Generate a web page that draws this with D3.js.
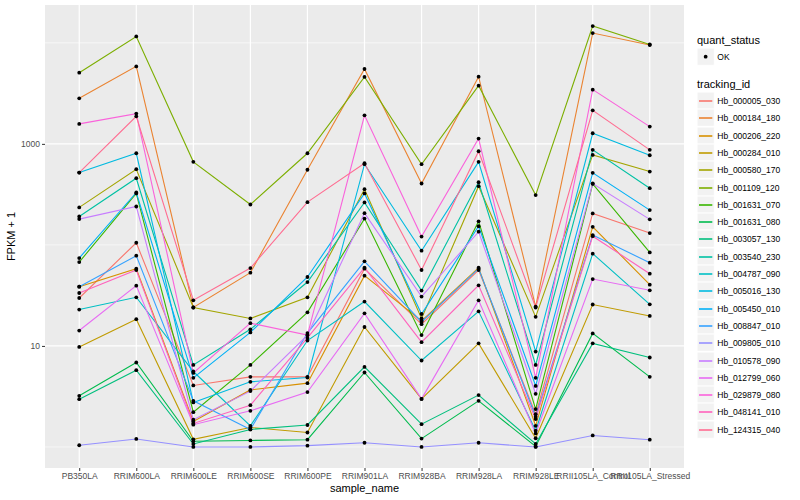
<!DOCTYPE html>
<html>
<head>
<meta charset="utf-8">
<script src="https://cdn.jsdelivr.net/npm/d3@7"></script>
<style>
  body { margin: 0; background: #fff; }
  text { font-family: "Liberation Sans", Arial, sans-serif; }
</style>
</head>
<body>
<div id="chart"></div>
<script>
// samples on the x axis
const samples = ["PB350LA", "RRIM600LA", "RRIM600LE", "RRIM600SE", "RRIM600PE", "RRIM901LA",
                 "RRIM928BA", "RRIM928LA", "RRIM928LE", "RRII105LA_Control", "RRII105LA_Stressed"];

const trackingIds = ["Hb_000005_030", "Hb_000184_180", "Hb_000206_220", "Hb_000284_010", "Hb_000580_170",
                     "Hb_001109_120", "Hb_001631_070", "Hb_001631_080", "Hb_003057_130", "Hb_003540_230",
                     "Hb_004787_090", "Hb_005016_130", "Hb_005450_010", "Hb_008847_010", "Hb_009805_010",
                     "Hb_010578_090", "Hb_012799_060", "Hb_029879_080", "Hb_048141_010", "Hb_124315_040"];

// FPKM + 1, one row per tracking_id, one value per sample
const fpkmPlus1 = [
  [29.8, 105, 4.06, 4.94, 4.94, 58.2, 16.4, 56.4, 2.11, 205, 131],
  [2822, 5845, 24.0, 53.1, 554, 5510, 405, 4624, 24.5, 12500, 9513],
  [38.6, 58.2, 1.79, 3.67, 4.28, 49.6, 17.7, 59.5, 1.62, 151, 40.4],
  [9.77, 18.4, 1.19, 1.56, 1.39, 15.4, 2.99, 10.6, 1.22, 25.7, 19.8],
  [235, 561, 24.0, 18.7, 30.3, 356, 18.7, 381, 19.4, 778, 532],
  [5066, 11570, 664, 251, 807, 4593, 629, 3768, 311, 14660, 9643],
  [67.6, 323, 2.21, 6.49, 21.5, 182, 12.8, 171, 2.37, 402, 84.3],
  [3.21, 6.85, 1.14, 1.16, 1.18, 5.46, 1.21, 2.86, 1.01, 13.3, 4.94],
  [2.97, 5.75, 1.07, 1.49, 1.65, 6.20, 1.68, 3.26, 1.07, 10.6, 7.68],
  [191, 457, 6.49, 14.6, 42.9, 263, 35.3, 417, 6.49, 872, 364],
  [22.9, 30.3, 5.58, 1.62, 11.3, 27.5, 7.17, 22.0, 1.45, 81.9, 25.8],
  [520, 807, 2.76, 4.41, 4.87, 629, 87.6, 664, 8.80, 1273, 771],
  [74.1, 330, 4.83, 13.6, 48.1, 323, 20.7, 153, 4.02, 517, 221],
  [38.6, 78.2, 2.86, 1.49, 13.4, 68.7, 17.3, 58.2, 1.99, 125, 66.7],
  [1.04, 1.20, 1.00, 1.00, 1.03, 1.10, 1.00, 1.10, 1.00, 1.30, 1.18],
  [180, 240, 1.86, 3.57, 12.8, 206, 30.8, 135, 3.36, 405, 179],
  [14.2, 39.5, 1.66, 2.28, 3.49, 21.0, 2.99, 28.3, 1.36, 45.9, 35.5],
  [1576, 1992, 5.41, 16.8, 12.8, 1917, 121, 1128, 4.83, 3440, 1482],
  [33.4, 56.4, 1.71, 2.59, 12.0, 59.5, 10.9, 39.8, 1.89, 122, 51.9],
  [520, 1874, 28.3, 59.0, 265, 643, 56.4, 845, 24.0, 2148, 872]
];

const quantStatus = ["OK"];
const yMajor = [10, 1000];
const yMinor = [1, 100, 10000];

// ggplot hue palette for 20 groups
const palette = ["#F8766D", "#EA8331", "#D89000", "#C09B00", "#A3A500", "#7CAE00", "#39B600",
                 "#00BB4E", "#00BF7D", "#00C1A3", "#00BFC4", "#00BAE0", "#00B0F6", "#35A2FF",
                 "#9590FF", "#C77CFF", "#E76BF3", "#FA62DB", "#FF62BC", "#FF6C91"];

const W = 800, H = 500;
const panel = {left: 45, right: 684, top: 5, bottom: 468};

const svg = d3.select("#chart").append("svg")
    .attr("width", W)
    .attr("height", H);

const x = d3.scalePoint()
    .domain(samples)
    .range([panel.left, panel.right])
    .padding(0.6);

// log scale with 5% expansion in log space, like ggplot
const ext = d3.extent(fpkmPlus1.flat()).map(Math.log10);
const pad = (ext[1] - ext[0]) * 0.05;
const y = d3.scaleLog()
    .domain([Math.pow(10, ext[0] - pad), Math.pow(10, ext[1] + pad)])
    .range([panel.bottom, panel.top]);

const color = d3.scaleOrdinal()
    .domain(trackingIds)
    .range(palette);

// panel
svg.append("rect")
    .attr("x", panel.left).attr("y", panel.top)
    .attr("width", panel.right - panel.left)
    .attr("height", panel.bottom - panel.top)
    .attr("fill", "#EBEBEB");

const grid = svg.append("g");
grid.selectAll(".minor").data(yMinor.filter(v => y(v) >= panel.top && y(v) <= panel.bottom))
  .enter().append("line")
    .attr("x1", panel.left).attr("x2", panel.right)
    .attr("y1", d => y(d)).attr("y2", d => y(d))
    .attr("stroke", "#fff").attr("stroke-width", 0.6);
grid.selectAll(".major").data(yMajor)
  .enter().append("line")
    .attr("x1", panel.left).attr("x2", panel.right)
    .attr("y1", d => y(d)).attr("y2", d => y(d))
    .attr("stroke", "#fff").attr("stroke-width", 1.2);
grid.selectAll(".vx").data(samples)
  .enter().append("line")
    .attr("x1", d => x(d)).attr("x2", d => x(d))
    .attr("y1", panel.top).attr("y2", panel.bottom)
    .attr("stroke", "#fff").attr("stroke-width", 1.2);

// lines
const line = d3.line()
    .x((d, i) => x(samples[i]))
    .y(d => y(d));

svg.append("g").selectAll("path")
    .data(fpkmPlus1)
    .enter().append("path")
    .attr("d", d => line(d))
    .attr("fill", "none")
    .style("stroke", (d, i) => color(trackingIds[i]))
    .style("stroke-width", 1.1);

// points
svg.append("g").selectAll("g")
    .data(fpkmPlus1)
    .enter().append("g")
    .selectAll("circle")
    .data(d => d)
    .enter().append("circle")
    .attr("cx", (d, i) => x(samples[i]))
    .attr("cy", d => y(d))
    .attr("r", 1.9)
    .attr("fill", "#000");

// axes
const xAxis = svg.append("g")
    .attr("transform", `translate(0,${panel.bottom})`)
    .call(d3.axisBottom(x).tickSize(3).tickPadding(2));
const yAxis = svg.append("g")
    .attr("transform", `translate(${panel.left},0)`)
    .call(d3.axisLeft(y).tickValues(yMajor).tickFormat(d3.format("d")).tickSize(3).tickPadding(2));

[xAxis, yAxis].forEach(a => {
  a.select(".domain").remove();
  a.selectAll(".tick line").attr("stroke", "#333333");
  a.selectAll(".tick text")
      .attr("fill", "#4D4D4D")
      .style("font-size", "8.5px")
      .style("font-family", '"Liberation Sans", Arial, sans-serif');
});

svg.append("text")
    .attr("x", (panel.left + panel.right) / 2)
    .attr("y", 492)
    .attr("text-anchor", "middle")
    .style("font-size", "11px")
    .text("sample_name");

svg.append("text")
    .attr("transform", `translate(15,${(panel.top + panel.bottom) / 2}) rotate(-90)`)
    .attr("text-anchor", "middle")
    .style("font-size", "11px")
    .text("FPKM + 1");

// legends
const lg = svg.append("g").attr("transform", "translate(697,0)");
const key = 17.3;

lg.append("text").attr("x", 0).attr("y", 44)
    .style("font-size", "11px").text("quant_status");
const q = lg.selectAll(".q").data(quantStatus).enter().append("g")
    .attr("transform", (d, i) => `translate(0,${48 + i * key})`);
q.append("rect").attr("width", key).attr("height", key)
    .attr("fill", "#F2F2F2").attr("stroke", "#fff");
q.append("circle").attr("cx", key / 2).attr("cy", key / 2).attr("r", 1.9).attr("fill", "#000");
q.append("text").attr("x", key + 3).attr("y", key / 2 + 3)
    .style("font-size", "8.5px").attr("fill", "#000").text(d => d);

lg.append("text").attr("x", 0).attr("y", 88)
    .style("font-size", "11px").text("tracking_id");
const t = lg.selectAll(".t").data(trackingIds).enter().append("g")
    .attr("transform", (d, i) => `translate(0,${Math.round(92 + i * key)})`);
t.append("rect").attr("width", key).attr("height", key)
    .attr("fill", "#F2F2F2").attr("stroke", "#fff");
t.append("line").attr("x1", 2).attr("x2", key - 2)
    .attr("y1", 9).attr("y2", 9)
    .style("stroke", d => color(d)).style("stroke-width", 1.6);
t.append("text").attr("x", key + 3).attr("y", key / 2 + 3)
    .style("font-size", "8.5px").attr("fill", "#000").text(d => d);
</script>
</body>
</html>
